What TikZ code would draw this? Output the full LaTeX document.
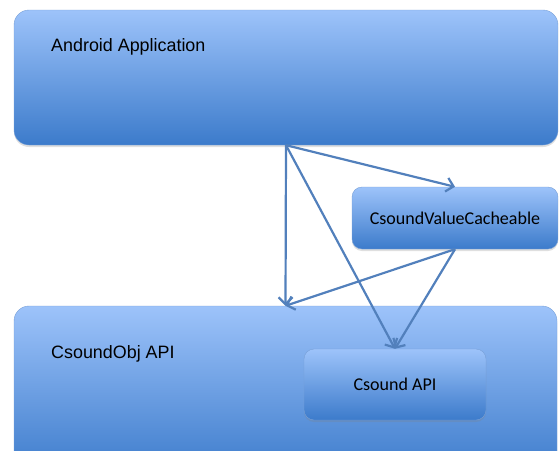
\documentclass[tikz,border=0pt]{standalone}
\usepackage{fontspec}
\usepackage{tikz}
\usetikzlibrary{arrows.meta, positioning, calc, shadows}
\newfontfamily\arialfont{Liberation Sans}
\newfontfamily\calibrifont{Carlito}
\definecolor{boxtop}{RGB}{157, 195, 250}
\definecolor{boxbottom}{RGB}{60, 123, 203}
\definecolor{boxedge}{RGB}{120, 160, 215}
\definecolor{linkblue}{RGB}{82, 128, 188}
\tikzset{
    layer/.style={rectangle, draw=boxedge, thin, top color=boxtop, bottom color=boxbottom, rounded corners=15pt,
        drop shadow={shadow xshift=0pt, shadow yshift=-2pt, opacity=0.25}},
    module/.style={rectangle, draw=boxedge, thin, top color=boxtop, bottom color=boxbottom, rounded corners=10pt,
        drop shadow={shadow xshift=0pt, shadow yshift=-2pt, opacity=0.25}, font=\calibrifont\fontsize{18}{21}\selectfont},
    layerlabel/.style={anchor=west, inner sep=0pt, font=\arialfont\fontsize{17.9}{21}\selectfont},
    link/.style={draw, -{Straight Barb[length=7pt, width=14pt]}, linkblue, line width=2.2pt}
}

\begin{document}
\begin{tikzpicture}[x=1pt, y=-1pt]
    \useasboundingbox (0,0) rectangle (559,450);
    \clip (0,0) rectangle (559,450);

    % --- LAYERS ---
    % TOP: Android Application
    \node[layer, minimum width=544pt, minimum height=135pt] (app) at (286, 77.5) {};
    \node[layerlabel] (applabel) at (51, 47) {Android Application};

    % BOTTOM: CsoundObj API
    \node[layer, minimum width=543pt, minimum height=170pt] (obj) at (285.5, 391) {};
    \node[layerlabel] (objlabel) at (51, 354) {CsoundObj API};

    % --- MODULES ---
    \node[module, minimum width=206pt, minimum height=62pt] (cvc) at (455, 218) {CsoundValueCacheable};
    \node[module, minimum width=182pt, minimum height=71pt] (api) at (395, 384.5) {Csound API};

    % Connective arrows
    \draw[link] (app.south) -- (obj.north);
    \draw[link] (app.south) -- (cvc.north);
    \draw[link] (app.south) -- (api.north);
    \draw[link] (cvc.south) -- (obj.north);
    \draw[link] (cvc.south) -- (api.north);

\end{tikzpicture}
\end{document}
